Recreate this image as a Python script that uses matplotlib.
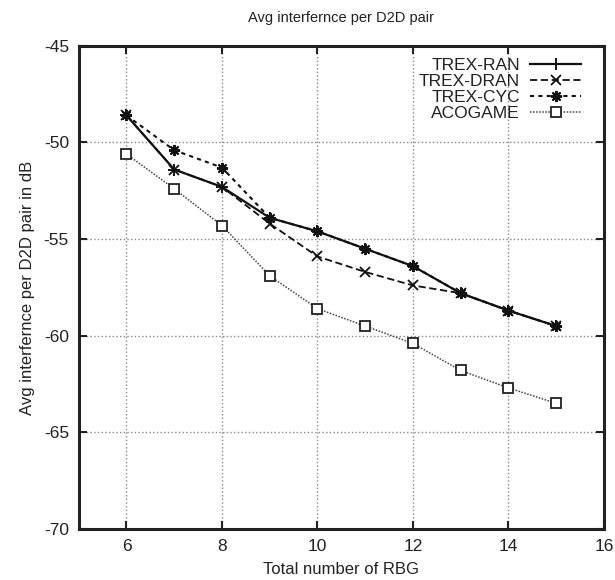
import matplotlib.pyplot as plt
import numpy as np

plt.rcParams['font.family'] = ['Liberation Sans', 'DejaVu Sans']
plt.rcParams['axes.unicode_minus'] = False

# data
rbg = [6, 7, 8, 9, 10, 11, 12, 13, 14, 15]
trex_ran = [-48.6, -51.4, -52.3, -53.9, -54.6, -55.5, -56.4, -57.8, -58.7, -59.5]
trex_dran = [-48.6, -51.4, -52.3, -54.2, -55.9, -56.7, -57.4, -57.8, -58.7, -59.5]
trex_cyc = [-48.6, -50.4, -51.3, -53.9, -54.6, -55.5, -56.4, -57.8, -58.7, -59.5]
acogame = [-50.6, -52.4, -54.3, -56.9, -58.6, -59.5, -60.4, -61.8, -62.7, -63.5]

fig = plt.figure(figsize=(6.15, 5.8), dpi=100)
ax = fig.add_axes([0.128, 0.088, 0.854, 0.833])

ax.plot(rbg, trex_ran, color='#111111', lw=1.6, ls='-', marker='+', ms=8, mew=1.4,
        label='TREX-RAN')
ax.plot(rbg, trex_dran, color='#111111', lw=1.3, ls=(0, (4, 2)), marker='x', ms=7, mew=1.3,
        label='TREX-DRAN')
ax.plot(rbg, trex_cyc, color='#111111', lw=1.5, ls=(0, (2, 2)), marker=(8, 2, 0), ms=8, mew=1.4,
        label='TREX-CYC')
ax.plot(rbg, acogame, color='#444444', lw=1.1, ls=(0, (1, 1)), marker='s', ms=7, mew=1.3,
        mfc='white', mec='#222222', label='ACOGAME')

ax.set_xlim(5, 16)
ax.set_ylim(-70, -45)
ax.set_xticks(np.arange(6, 17, 2))
ax.set_yticks(np.arange(-70, -44, 5))
ax.tick_params(direction='in', top=True, right=True, length=6, width=1.5, labelsize=12.5,
               colors='#222222', pad=7)
ax.grid(True, ls=':', color='#888888', lw=1)
for s in ax.spines.values():
    s.set_linewidth(2.2)
    s.set_color('#222222')

ax.set_title('Avg interfernce per D2D pair', fontsize=10.5, color='#222222', pad=17)
ax.set_xlabel('Total number of RBG', fontsize=12, color='#222222', labelpad=6)
ax.set_ylabel('Avg interfernce per D2D pair in dB', fontsize=12, color='#222222', labelpad=6)

leg = ax.legend(loc='upper right', bbox_to_anchor=(0.979, 1.0), frameon=False,
                markerfirst=False, fontsize=12.5, handlelength=2.9, labelspacing=0.05,
                borderaxespad=0.3, handletextpad=0.6)
for t in leg.get_texts():
    t.set_ha('right')
    t.set_color('#222222')

fig.savefig('out.png', dpi=100)
